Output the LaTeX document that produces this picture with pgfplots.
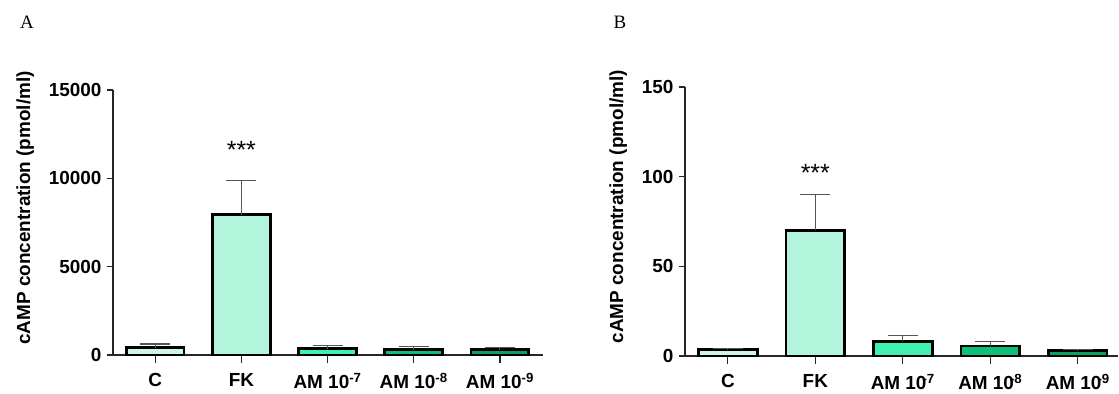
\documentclass[border=0pt]{standalone}
\usepackage{pgfplots}
\pgfplotsset{compat=1.18}
\usepackage{fontspec}
\setmainfont{Liberation Sans}
\newfontfamily\seriffont{Liberation Serif}
\definecolor{cC}{HTML}{CDF5E6}
\definecolor{cFK}{HTML}{B3F5DC}
\definecolor{cA7}{HTML}{40F0B0}
\definecolor{cA8}{HTML}{0CC07A}
\definecolor{cA9}{HTML}{0AA062}
\definecolor{errc}{HTML}{555555}
\pgfplotsset{
  cbar/.style={ybar, bar shift=0pt, bar width=0.67, draw=black, line width=2.8bp, fill=#1,
    error bars/.cd, y dir=plus, y explicit,
    error bar style={line width=1.1bp, draw=errc},
    error mark options={rotate=90, mark size=15bp, line width=1.1bp, draw=errc}},
  myaxis/.style={scale only axis,
    axis x line*=bottom, axis y line*=left,
    xtick={0,1,2,3,4}, tick align=outside,
    ymin=0, xmin=-0.49,
    scaled y ticks=false,
    axis line style={line width=1.2bp, draw=black!85},
    major tick style={line width=1.2bp, draw=black!85},
    major tick length=6bp,
    xtick style={/pgfplots/major tick length=8bp},
    ticklabel style={font=\bfseries\fontsize{19}{22}\selectfont},
    xticklabel style={yshift=-11bp, inner sep=1bp},
    yticklabel style={xshift=-2bp},
    /pgf/number format/assume math mode=true,
    /pgf/number format/1000 sep={},
    ylabel={cAMP concentration (pmol/ml)},
    label style={font=\bfseries\fontsize{19}{22}\selectfont},
    ylabel style={at={(ticklabel cs:0.555)}, yshift=8bp},
    clip=false},
}
\begin{document}
\begin{tikzpicture}
\useasboundingbox (0,0) rectangle (1119bp,394bp);
\node[font=\seriffont\fontsize{19}{22}\selectfont] at (27bp,372bp) {A};
\node[font=\seriffont\fontsize{19}{22}\selectfont] at (620bp,372bp) {B};
\begin{axis}[myaxis, at={(113bp,39bp)}, anchor=south west,
  width=430bp, height=265bp, xmax=4.5, ymax=15000,
  ytick={0,5000,10000,15000},
  xticklabels={C, FK, AM 10\textsuperscript{-7}, AM 10\textsuperscript{-8}, AM 10\textsuperscript{-9}}]
\addplot[cbar=cC] coordinates {(0,420) +- (0,200)};
\addplot[cbar=cFK] coordinates {(1,7950) +- (0,1950)};
\addplot[cbar=cA7] coordinates {(2,350) +- (0,200)};
\addplot[cbar=cA8] coordinates {(3,310) +- (0,180)};
\addplot[cbar=cA9] coordinates {(4,300) +- (0,140)};
\node[font=\fontsize{25}{28}\selectfont] at (axis cs:1,11600) {***};
\end{axis}
\begin{axis}[myaxis, at={(685bp,38bp)}, anchor=south west,
  width=433bp, height=269bp, xmax=4.46, ymax=150,
  ytick={0,50,100,150},
  xticklabels={C, FK, AM 10\textsuperscript{\kern-0.3em-7}, AM 10\textsuperscript{\kern-0.3em-8}, AM 10\textsuperscript{\kern-0.3em-9}}]
\addplot[cbar=cC] coordinates {(0,3.5) +- (0,0.5)};
\addplot[cbar=cFK] coordinates {(1,70) +- (0,20)};
\addplot[cbar=cA7] coordinates {(2,8.2) +- (0,3)};
\addplot[cbar=cA8] coordinates {(3,5.6) +- (0,2.4)};
\addplot[cbar=cA9] coordinates {(4,2.9) +- (0,0.8)};
\node[font=\fontsize{25}{28}\selectfont] at (axis cs:1,102) {***};
\end{axis}
\end{tikzpicture}
\end{document}
